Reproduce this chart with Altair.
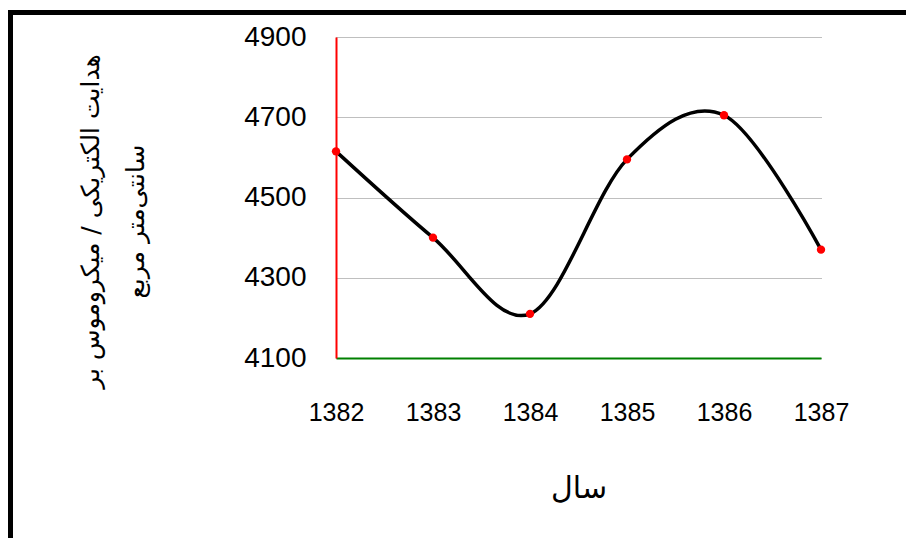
import altair as alt
import pandas as pd

years = [1382, 1383, 1384, 1385, 1386, 1387]
values = [4615, 4400, 4210, 4595, 4705, 4370]
y_ticks = [4100, 4300, 4500, 4700, 4900]
x_title = "سال"
y_title = ["هدایت الکتریکی / میکروموس بر", "سانتی‌متر مربع"]

df = pd.DataFrame({"year": years, "value": values})

NUM_FONT = "Liberation Sans"

x = alt.X("year:Q",
          scale=alt.Scale(domain=[1382, 1387], nice=False, zero=False),
          axis=alt.Axis(values=years, format="d", grid=False, ticks=False,
                        domainColor="green", domainWidth=2,
                        labelFont=NUM_FONT, labelFontSize=25, labelColor="#000",
                        labelPadding=42, labelFlush=False,
                        title=x_title, titleFont="DejaVu Sans", titleFontSize=30,
                        titleFontWeight="normal", titleColor="#000", titlePadding=48))
y = alt.Y("value:Q",
          scale=alt.Scale(domain=[4100, 4900], nice=False, zero=False),
          axis=alt.Axis(values=y_ticks, format="d", grid=True, gridColor="#7f7f7f",
                        gridDash=[1, 1], gridWidth=1, ticks=False,
                        domainColor="red", domainWidth=2,
                        labelFont=NUM_FONT, labelFontSize=28, labelColor="#000",
                        labelPadding=30, labelBaseline="middle",
                        title=y_title, titleFont="DejaVu Sans", titleFontSize=25,
                        titleFontWeight="normal", titleColor="#000",
                        titleAngle=270, titleAlign="center", titleBaseline="alphabetic",
                        titleX=-238, titleY=184, titleLineHeight=45))

base = alt.Chart(df).encode(x=x, y=y)
line = base.mark_line(interpolate="cardinal", color="black", strokeWidth=3.5)
pts = base.mark_circle(color="red", size=70, opacity=1)

frame_df = pd.DataFrame({"k": [0]})
top_rule = alt.Chart(frame_df).mark_rule(color="black", strokeWidth=5).encode(
    x=alt.value(-328), x2=alt.value(600), y=alt.value(-24.5))
left_rule = alt.Chart(frame_df).mark_rule(color="black", strokeWidth=5).encode(
    x=alt.value(-325.5), y=alt.value(-27), y2=alt.value(600))

chart = alt.layer(line, pts, top_rule, left_rule).properties(
    width=485, height=321,
    background="white",
    autosize=alt.AutoSizeParams(type="none"),
    padding={"left": 328, "top": 29, "right": 85, "bottom": 180},
).configure_view(strokeWidth=0, stroke="magenta", fill="white")

chart.save("out.html", embed_options={"renderer": "svg", "actions": False})
